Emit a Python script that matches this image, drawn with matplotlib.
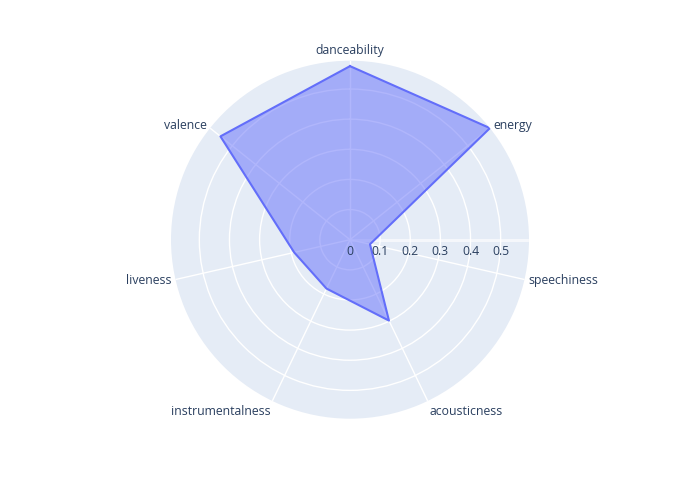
import numpy as np
from matplotlib import pyplot as plt

# audio features of the track
categories = ['danceability', 'energy', 'speechiness', 'acousticness',
              'instrumentalness', 'liveness', 'valence']
values = [0.576, 0.594, 0.068, 0.298, 0.18, 0.19, 0.55]
r_ticks = [0, 0.1, 0.2, 0.3, 0.4, 0.5]
r_tick_labels = ['0', '0.1', '0.2', '0.3', '0.4', '0.5']

text_color = '#2a3f5f'
line_color = '#636efa'
plt.rcParams['font.family'] = ['Open Sans', 'DejaVu Sans']

angles = np.linspace(0, 2 * np.pi, len(categories), endpoint=False)
rmax = max(values)

fig = plt.figure(figsize=(7, 5), dpi=100)
ax = fig.add_axes([0.2443, 0.1626, 0.5114, 0.7160], projection='polar')
ax.set_theta_offset(np.pi / 2)
ax.set_theta_direction(-1)
ax.set_facecolor('#E5ECF6')
ax.spines['polar'].set_visible(False)
ax.set_ylim(0, rmax)

ax.set_xticks(angles)
ax.set_xticklabels([])
ax.set_yticks(r_ticks[1:])
ax.set_yticklabels([])
ax.grid(color='white', linewidth=1)
ax.tick_params(length=0)

# radial axis line along 0 deg (east)
east = np.pi / 2
ax.plot([east, east], [0, rmax], color='#f5f7fb', linewidth=2.2, zorder=1)

# the trace
a = np.append(angles, angles[0])
v = np.append(values, values[0])
ax.fill(a, v, color=line_color, alpha=0.5, linewidth=0, zorder=2)
ax.plot(a, v, color=line_color, linewidth=1.5, zorder=3)

# radial tick labels under the axis line
for t, lab in zip(r_ticks, r_tick_labels):
    ax.annotate(lab, (east, t), xytext=(0, -3.5), textcoords='offset points',
                ha='center', va='top', fontsize=8.8, color=text_color, zorder=4)

# category labels outside the circle
for ang, name in zip(angles, categories):
    screen = np.pi / 2 - ang
    c, s = np.cos(screen), np.sin(screen)
    ha = 'left' if c > 0.05 else ('right' if c < -0.05 else 'center')
    if s > 0.95:
        va = 'bottom'
    elif s < -0.8:
        va = 'top'
    else:
        va = 'center'
    ax.annotate(name, (ang, rmax), xytext=(3 * c, 3 * s), textcoords='offset points',
                ha=ha, va=va, fontsize=8.8, color=text_color, annotation_clip=False)

fig.savefig('out.png', dpi=100)
